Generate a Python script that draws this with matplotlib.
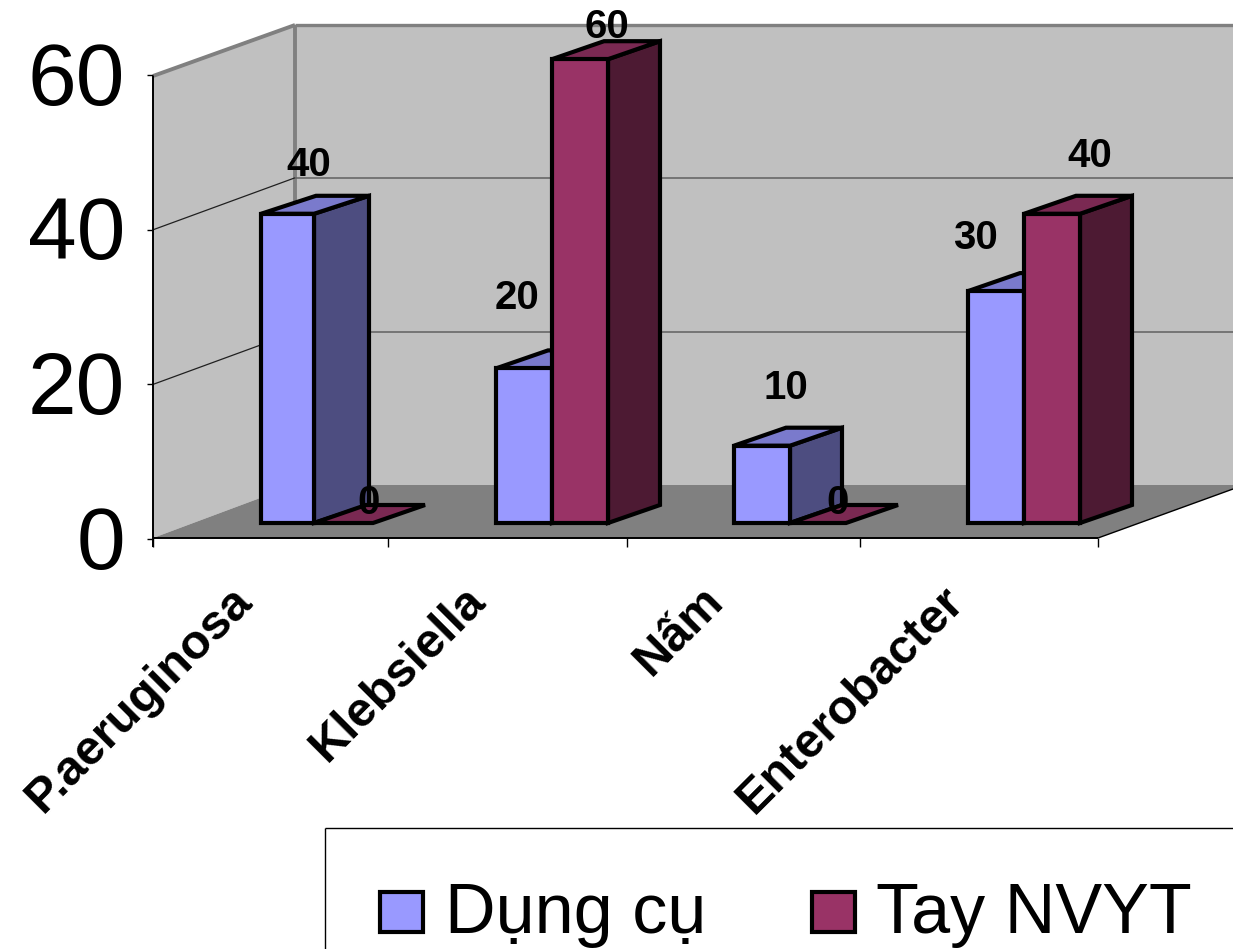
import matplotlib
matplotlib.use("Agg")
import matplotlib.pyplot as plt
from matplotlib.patches import Polygon, Rectangle

categories = ["P.aeruginosa", "Klebsiella", "Nấm", "Enterobacter"]
dung_cu = [40, 20, 10, 30]
tay_nvyt = [0, 60, 0, 40]
series_names = ["Dụng cụ", "Tay NVYT"]
y_ticks = [0, 20, 40, 60]

W, H = 1233, 949
PX = 7.73          # pixels per value unit
FLOOR = 523        # pixel row of value 0 on the front plane
DX, DY = 52, 18    # bar depth
plt.rcParams["font.family"] = ["Liberation Sans", "DejaVu Sans"]

fig = plt.figure(figsize=(W / 100, H / 100), dpi=100, facecolor="white")
ax = fig.add_axes([0, 0, 1, 1])
ax.set_xlim(0, W)
ax.set_ylim((FLOOR - H) / PX, FLOOR / PX)
ax.axis("off")

def py(p):
    return (FLOOR - p) / PX

def poly(pts, fc, ec="black", lw=3.0, z=3):
    ax.add_patch(Polygon([(x, py(y)) for x, y in pts], closed=True, fc=fc, ec=ec,
                         lw=lw, zorder=z, joinstyle="miter"))

def line(x0, y0, x1, y1, c="black", lw=1.0, z=2):
    ax.plot([x0, x1], [py(y0), py(y1)], color=c, lw=lw, zorder=z, solid_capstyle="butt")

# walls and floor
LX, BX, RX = 153, 295, 1233
poly([(LX, 76), (BX, 25), (BX, 485), (LX, 538)], "#C0C0C0", ec="none", lw=0, z=1)
poly([(BX, 25), (RX, 25), (RX, 485), (BX, 485)], "#C0C0C0", ec="none", lw=0, z=1)
poly([(LX, 538), (BX, 485), (RX, 485), (RX, 489), (1098, 538)], "#808080", ec="none", lw=0, z=1)
line(LX, 76, BX, 25, "#808080", 2.8)
line(BX, 25, RX, 25, "#808080", 2.4)
line(BX, 25, BX, 485, "#808080", 2.8)
for v in y_ticks[1:3]:
    yf = 539 - v * PX
    line(LX, yf, BX, yf - 52, "#202020", 0.9)
    line(BX, yf - 52, RX, yf - 52, "#606060", 1.1)
for v in y_ticks:
    yf = 539 - v * PX
    line(LX - 6, yf, LX, yf, "black", 1.0)
line(LX, 76, LX, 547, "black", 1.4)
line(LX, 538, 1098, 538, "black", 1.4)
line(1098, 538, RX, 489, "black", 1.0)
for xt in [153, 388, 627, 860, 1098]:
    line(xt, 538, xt, 547, "black", 1.0)

# y tick labels
for v in y_ticks:
    ax.text(125, py(546 - v * PX), str(v), fontsize=63, ha="right", va="center", color="black", zorder=6)

# category labels
label_anchor = [229, 463, 700, 941]
for c, xa in zip(categories, label_anchor):
    ax.text(xa, py(578), c, fontsize=35, fontweight="bold", rotation=45, ha="right", va="top",
            rotation_mode="anchor", color="black", zorder=6)

# bars
BLUE = ("#9999FF", "#7A7ACC", "#4D4D80")
RED = ("#993366", "#7A2952", "#4D1A33")

def bar(x0, w, v, cols, dx=DX):
    top = FLOOR - v * PX
    if v > 0:
        poly([(x0 + w, FLOOR), (x0 + w + dx, FLOOR - DY), (x0 + w + dx, top - DY), (x0 + w, top)], cols[2])
    poly([(x0, top), (x0 + dx, top - DY), (x0 + w + dx, top - DY), (x0 + w, top)], cols[1])
    if v > 0:
        ax.add_patch(Rectangle((x0, 0), w, v, fc=cols[0], ec="black", lw=3.0, zorder=3))

lefts = [261, 496, 734, 968]
BW = 56
for i, x0 in enumerate(lefts):
    trim = 3 if i == 0 else 0
    depth = 55 if i == 0 else DX
    bar(x0, BW - trim, dung_cu[i], BLUE, depth)
    bar(x0 + BW - trim, BW + trim, tay_nvyt[i], RED, depth - 3 if i == 0 else depth)

# data labels
offs_blue = [(48, -49), (21, -70), (52, -58), (7, -53)]
offs_red = [(108, -20), (111, -32), (104, -20), (122, -58)]
for i, x0 in enumerate(lefts):
    ox, oy = offs_blue[i]
    ax.text(x0 + ox, py(FLOOR - dung_cu[i] * PX + oy), str(dung_cu[i]), fontsize=29, fontweight="bold",
            ha="center", va="center", zorder=7)
    ox, oy = offs_red[i]
    ax.text(x0 + ox, py(FLOOR - tay_nvyt[i] * PX + oy), str(tay_nvyt[i]), fontsize=29, fontweight="bold",
            ha="center", va="center", zorder=7)

# legend
line(325, 828, RX, 828, "black", 1.0, z=8)
line(325, 828, 325, H, "black", 1.0, z=8)
for (sx, tx, name, col) in [(380, 445, series_names[0], BLUE[0]), (812, 876, series_names[1], RED[0])]:
    poly([(sx, 892), (sx + 43, 892), (sx + 43, 932), (sx, 932)], col, z=8)
    ax.text(tx, py(915), name, fontsize=50.5, ha="left", va="center", color="black", zorder=8)

fig.savefig("out.png", dpi=100)
